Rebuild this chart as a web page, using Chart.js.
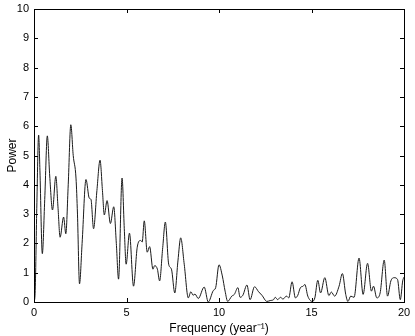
<!DOCTYPE html>
<html>
<head>
<meta charset="utf-8">
<script src="https://cdn.jsdelivr.net/npm/chart.js@4"></script>
<style>
html,body{margin:0;padding:0;background:#fff;}
#wrap{width:415px;height:336px;}
</style>
</head>
<body>
<div id="wrap"><canvas id="c" width="415" height="336"></canvas></div>
<script>
// periodogram values
const freq=[0,0.06,0.15,0.25,0.32,0.45,0.58,0.72,0.85,1.0,1.18,1.3,1.41,1.6,1.72,1.85,1.99,2.12,2.27,2.35,2.46,2.6,2.81,2.99,3.08,3.22,3.4,3.57,3.7,3.8,3.95,4.13,4.31,4.45,4.57,4.76,4.88,4.98,5.16,5.38,5.58,5.76,5.85,5.96,6.12,6.25,6.43,6.52,6.67,6.79,6.95,7.1,7.28,7.43,7.61,7.78,7.93,8.12,8.34,8.48,8.6,8.7,8.88,9.2,9.42,9.69,9.82,10.0,10.18,10.33,10.47,10.69,10.83,11.02,11.14,11.29,11.51,11.68,11.92,12.14,12.32,12.59,12.77,12.95,13.04,13.17,13.32,13.46,13.64,13.77,13.95,14.13,14.26,14.4,14.55,14.64,14.8,15.04,15.18,15.34,15.49,15.72,15.94,16.07,16.25,16.49,16.67,16.85,16.97,17.12,17.3,17.57,17.79,18.03,18.24,18.35,18.53,18.71,18.93,19.11,19.29,19.47,19.65,19.8,19.93,20];
const power=[0,0.3,3.2,5.7,4.5,1.65,3.5,5.67,4.3,3.14,4.29,3.2,2.21,2.9,2.33,4.0,6.05,5.0,4.23,3.0,0.62,2.0,4.18,3.54,3.5,2.5,3.8,4.84,3.8,2.97,3.46,2.68,3.25,2.0,0.78,4.23,2.5,1.29,2.35,0.54,1.87,2.1,2.05,2.77,1.7,1.89,1.12,1.24,1.12,0.72,1.8,2.73,1.29,1.12,0.31,1.4,2.19,1.29,0.14,0.35,0.23,0.27,0.12,0.51,0.0,0.39,0.49,1.27,0.89,0.37,0.02,0.2,0.26,0.49,0.16,0.23,0.58,0.08,0.52,0.35,0.23,0.02,0.05,0.08,0.16,0.08,0.16,0.1,0.2,0.14,0.69,0.14,0.23,0.49,0.54,0.6,0.2,0.02,0.14,0.74,0.31,0.83,0.22,0.34,0.2,0.54,0.97,0.26,0.02,0.2,0.16,1.5,0.26,1.32,0.37,0.54,0.14,0.31,1.43,0.2,0.72,0.83,0.77,0.08,0.72,0.85];
const xTicks=[0,5,10,15,20];
const yTicks=[0,1,2,3,4,5,6,7,8,9,10];

const FONT='"Liberation Sans", Arial, sans-serif';

// matlab style box with inward ticks
const boxTicks={
    id:'boxTicks',
    afterDraw(chart){
        const ctx=chart.ctx, a=chart.chartArea, xs=chart.scales.x, ys=chart.scales.y;
        ctx.save();
        ctx.strokeStyle='#000';
        ctx.lineWidth=1;
        ctx.strokeRect(Math.round(a.left)+0.5,Math.round(a.top)+0.5,Math.round(a.right-a.left),Math.round(a.bottom-a.top));
        ctx.beginPath();
        xTicks.forEach(v=>{
            const px=Math.round(xs.getPixelForValue(v))+0.5;
            ctx.moveTo(px,a.bottom);ctx.lineTo(px,a.bottom-4);
            ctx.moveTo(px,a.top);ctx.lineTo(px,a.top+4);
        });
        yTicks.forEach(v=>{
            const py=Math.round(ys.getPixelForValue(v))+0.5;
            ctx.moveTo(a.left,py);ctx.lineTo(a.left+4,py);
            ctx.moveTo(a.right,py);ctx.lineTo(a.right-4,py);
        });
        ctx.stroke();
        ctx.restore();
    }
};

new Chart(document.getElementById('c'),{
    type:'line',
    data:{datasets:[{
        data:freq.map((f,i)=>({x:f,y:power[i]})),
        borderColor:'#1a1a1a',
        borderWidth:1,
        pointRadius:0,
        cubicInterpolationMode:'monotone',
        fill:false
    }]},
    options:{
        responsive:false,
        animation:false,
        devicePixelRatio:1,
        layout:{padding:{top:9,right:11,bottom:0,left:0}},
        plugins:{legend:{display:false},tooltip:{enabled:false}},
        scales:{
            x:{
                type:'linear',min:0,max:20,
                afterFit(s){s.height=34;s.paddingLeft=0;s.paddingRight=0;},
                afterBuildTicks(s){s.ticks=xTicks.map(v=>({value:v}));},
                grid:{display:false,drawTicks:false},
                border:{display:false},
                ticks:{color:'#000',font:{family:FONT,size:11},padding:4,maxRotation:0},
                title:{display:true,text:'Frequency (year⁻¹)',color:'#000',font:{family:FONT,size:12},padding:{top:0,bottom:0}}
            },
            y:{
                type:'linear',min:0,max:10,
                afterFit(s){s.width=34;s.paddingTop=0;s.paddingBottom=0;},
                afterBuildTicks(s){s.ticks=yTicks.map(v=>({value:v}));},
                grid:{display:false,drawTicks:false},
                border:{display:false},
                ticks:{color:'#000',font:{family:FONT,size:11},padding:5},
                title:{display:true,text:'Power',color:'#000',font:{family:FONT,size:12},padding:{top:5,bottom:0}}
            }
        }
    },
    plugins:[boxTicks]
});
</script>
</body>
</html>
